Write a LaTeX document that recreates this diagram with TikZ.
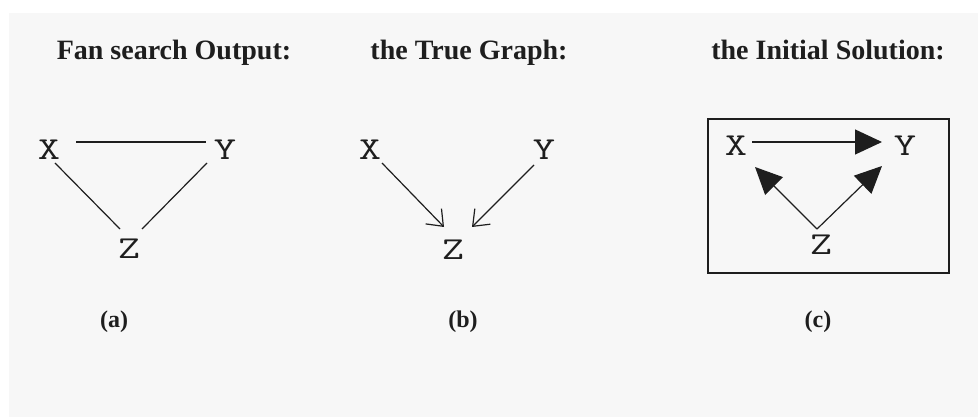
\documentclass[tikz,border=0pt]{standalone}
\usepackage{fontspec}
\usepackage{graphicx}
\setmainfont{Liberation Serif}
\usetikzlibrary{arrows.meta}
\definecolor{bggray}{RGB}{247,247,247}
\definecolor{ink}{RGB}{30,30,30}
\newcommand{\wide}[1]{\scalebox{1.35}[1]{#1}}
\begin{document}
\begin{tikzpicture}[x=1pt,y=-1pt,
  var/.style={inner sep=0pt,font=\ttfamily\fontsize{32}{32}\selectfont,text=ink},
  ttl/.style={inner sep=0pt,anchor=base,font=\bfseries\fontsize{28}{28}\selectfont,text=ink},
  lbl/.style={inner sep=0pt,font=\bfseries\fontsize{24}{24}\selectfont,text=ink},
  conn/.style={draw=ink,line width=1.2pt},
  openarr/.style={conn,-{Straight Barb[length=14pt,width=22pt,line width=1.2pt]}},
  fillarr/.style={conn,-{Triangle[length=27pt,width=25pt]}}]
\useasboundingbox (0,0) rectangle (978,417);
\fill[white] (0,0) rectangle (978,417);
\fill[bggray] (9,13) rectangle (978,417);

% titles
\node[ttl] (ta) at (174,60) {Fan search Output:};
\node[ttl] (tb) at (469,60) {the True Graph:};
\node[ttl] (tc) at (828,60) {the Initial Solution:};

% (a)
\node[var] (Xa) at (49,150) {\wide{X}};
\node[var] (Ya) at (225,150) {\wide{Y}};
\node[var] (Za) at (129,249) {\wide{Z}};
\draw[conn] ([shift={(27,-8)}]Xa.center) -- ([shift={(-19,-8)}]Ya.center);
\draw[conn] ([shift={(6,13)}]Xa.center) -- ([shift={(-9,-20)}]Za.center);
\draw[conn] ([shift={(-18,13)}]Ya.center) -- ([shift={(13,-20)}]Za.center);
\node[lbl] (la) at (114,322) {(a)};

% (b)
\node[var] (Xb) at (370,150) {\wide{X}};
\node[var] (Yb) at (544,150) {\wide{Y}};
\node[var] (Zb) at (453,250) {\wide{Z}};
\draw[openarr] ([shift={(12,13)}]Xb.center) -- ([shift={(-9,-23)}]Zb.center);
\draw[openarr] ([shift={(-10,15)}]Yb.center) -- ([shift={(19,-23)}]Zb.center);
\node[lbl] (lb) at (463,322) {(b)};

% (c)
\draw[ink,line width=1.8pt] (708,119) rectangle (949,273);
\node[var] (Xc) at (736,146) {\wide{X}};
\node[var] (Yc) at (905,146) {\wide{Y}};
\node[var] (Zc) at (821,245) {\wide{Z}};
\coordinate (Zt) at ([shift={(-4,-16)}]Zc.center);
\draw[fillarr] ([shift={(16,-4)}]Xc.center) -- ([shift={(-23,-4)}]Yc.center);
\draw[fillarr] (Zt) -- ([shift={(19,21)}]Xc.center);
\draw[fillarr] (Zt) -- ([shift={(-23,20)}]Yc.center);
\node[lbl] (lc) at (818,322) {(c)};
\end{tikzpicture}
\end{document}
